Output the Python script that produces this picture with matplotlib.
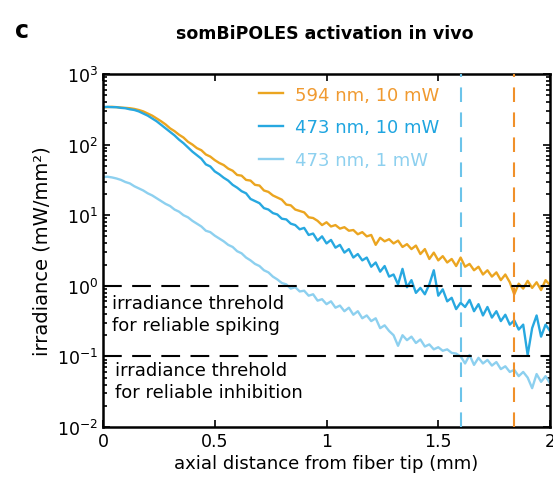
import matplotlib
matplotlib.use("Agg")
import matplotlib.pyplot as plt
import numpy as np

# axial distance sampled every 0.02 mm along the fiber axis
distance_mm = np.round(np.arange(0, 2.0001, 0.02), 2)

# irradiance, stored as log10(mW/mm^2)
log_594_10mw = [
    2.53, 2.53, 2.535, 2.53, 2.525, 2.52, 2.515, 2.505, 2.49, 2.47,
    2.44, 2.41, 2.37, 2.33, 2.285, 2.23, 2.19, 2.14, 2.10, 2.04,
    2.00, 1.95, 1.92, 1.86, 1.83, 1.78, 1.74, 1.71, 1.66, 1.63,
    1.57, 1.56, 1.50, 1.49, 1.43, 1.42, 1.35, 1.33, 1.28, 1.25,
    1.22, 1.15, 1.14, 1.08, 1.06, 1.04, 0.97, 0.96, 0.92, 0.86,
    0.90, 0.84, 0.86, 0.81, 0.83, 0.78, 0.79, 0.73, 0.76, 0.70,
    0.72, 0.58, 0.68, 0.63, 0.66, 0.60, 0.64, 0.55, 0.59, 0.52,
    0.57, 0.45, 0.52, 0.38, 0.47, 0.36, 0.42, 0.33, 0.38, 0.28,
    0.40, 0.27, 0.31, 0.22, 0.27, 0.16, 0.22, 0.13, 0.19, 0.08,
    0.16, 0.05, -0.12, 0.03, -0.04, 0.07, -0.03, 0.05, -0.06, 0.08,
    0.01,
]
log_473_10mw = [
    2.53, 2.535, 2.53, 2.53, 2.52, 2.515, 2.50, 2.49, 2.47, 2.44,
    2.41, 2.37, 2.33, 2.28, 2.23, 2.18, 2.13, 2.07, 2.02, 1.96,
    1.90, 1.85, 1.80, 1.72, 1.69, 1.62, 1.58, 1.53, 1.49, 1.43,
    1.39, 1.34, 1.31, 1.23, 1.20, 1.17, 1.10, 1.08, 1.03, 1.01,
    0.95, 0.94, 0.88, 0.86, 0.80, 0.82, 0.72, 0.74, 0.64, 0.70,
    0.60, 0.65, 0.54, 0.58, 0.47, 0.52, 0.40, 0.45, 0.36, 0.40,
    0.27, 0.33, 0.20, 0.28, 0.13, 0.16, 0.02, 0.24, -0.02, 0.08,
    -0.10, -0.03, -0.12, 0.02, 0.22, -0.14, -0.05, -0.22, -0.17, -0.33,
    -0.24, -0.30, -0.20, -0.36, -0.26, -0.42, -0.30, -0.45, -0.36, -0.50,
    -0.41, -0.55, -0.49, -0.62, -0.55, -0.98, -0.60, -0.42, -0.72, -0.55,
    -0.64,
]
log_473_1mw = [
    1.54, 1.545, 1.535, 1.52, 1.50, 1.47, 1.45, 1.41, 1.38, 1.35,
    1.31, 1.28, 1.24, 1.20, 1.16, 1.13, 1.08, 1.05, 1.00, 0.97,
    0.92, 0.88, 0.84, 0.78, 0.76, 0.71, 0.67, 0.63, 0.58, 0.55,
    0.49, 0.46, 0.40, 0.36, 0.31, 0.28, 0.22, 0.19, 0.13, 0.09,
    0.04, 0.02, -0.04, -0.02, -0.08, -0.07, -0.14, -0.12, -0.21, -0.19,
    -0.26, -0.22, -0.31, -0.28, -0.36, -0.31, -0.41, -0.36, -0.46, -0.42,
    -0.50, -0.46, -0.60, -0.56, -0.64, -0.70, -0.85, -0.70, -0.77, -0.72,
    -0.81, -0.76, -0.86, -0.83, -0.90, -0.87, -0.92, -0.90, -0.95, -0.96,
    -1.00, -1.10, -0.98, -1.12, -1.02, -1.10, -1.05, -1.13, -1.08, -1.18,
    -1.14, -1.22, -1.19, -1.28, -1.22, -1.30, -1.45, -1.25, -1.36, -1.28,
    -1.38,
]

series_labels = ["594 nm, 10 mW", "473 nm, 10 mW", "473 nm, 1 mW"]
line_colors = ["#EBA520", "#27A8E0", "#8DD0EF"]
text_colors = ["#F09A30", "#1FA5E0", "#8DD0EF"]

thresholds = [1.0, 0.1]  # mW/mm^2
threshold_texts = ["irradiance threhold\nfor reliable spiking",
                   "irradiance threhold\nfor reliable inhibition"]
max_depth_blue = 1.6
max_depth_orange = 1.84

plt.rcParams["font.family"] = "DejaVu Sans"

fig = plt.figure(figsize=(5.53, 4.85), dpi=100)
ax = fig.add_axes([0.1863, 0.1175, 0.8083, 0.7279])

for logvals, lab, col in zip([log_594_10mw, log_473_10mw, log_473_1mw], series_labels, line_colors):
    ax.plot(distance_mm, 10 ** np.array(logvals), color=col, lw=1.7, label=lab)

for thr in thresholds:
    ax.axhline(thr, color="black", lw=1.5, dashes=(9, 5), zorder=5)
ax.axvline(max_depth_blue, color="#6CC4EA", lw=1.5, dashes=(7, 5), zorder=5)
ax.axvline(max_depth_orange, color="#F0902A", lw=1.5, dashes=(7, 5), zorder=5)

ax.text(0.04, 0.77, threshold_texts[0], fontsize=13, va="top", ha="left", linespacing=1.3)
ax.text(0.055, 0.087, threshold_texts[1], fontsize=13, va="top", ha="left", linespacing=1.3)

ax.set_yscale("log")
ax.set_xlim(0, 2)
ax.set_ylim(1e-2, 1e3)
ax.set_xticks([0, 0.5, 1, 1.5, 2])
ax.set_xticklabels(["0", "0.5", "1", "1.5", "2"])
ax.tick_params(which="both", direction="in", top=True, right=True, labelsize=12.5, width=1.2)
ax.tick_params(which="major", length=5)
ax.tick_params(which="minor", length=3)
ax.tick_params(axis="x", which="minor", top=False, bottom=False)
for sp in ax.spines.values():
    sp.set_linewidth(1.8)

ax.set_xlabel("axial distance from fiber tip (mm)", fontsize=13, labelpad=3)
ax.set_ylabel("irradiance (mW/mm²)", fontsize=14, labelpad=4)

leg = ax.legend(loc="upper left", bbox_to_anchor=(0.349, 0.967), frameon=False,
                fontsize=13, handlelength=1.35, handletextpad=0.65, labelspacing=0.82,
                borderpad=0, borderaxespad=0)
for txt, col in zip(leg.get_texts(), text_colors):
    txt.set_color(col)

fig.text(0.587, 0.93, "somBiPOLES activation in vivo", fontsize=12.5, fontweight="bold",
         ha="center", va="center")
fig.text(0.04, 0.937, "c", fontsize=17, fontweight="bold", ha="center", va="center")

fig.savefig("out.png", dpi=100)
